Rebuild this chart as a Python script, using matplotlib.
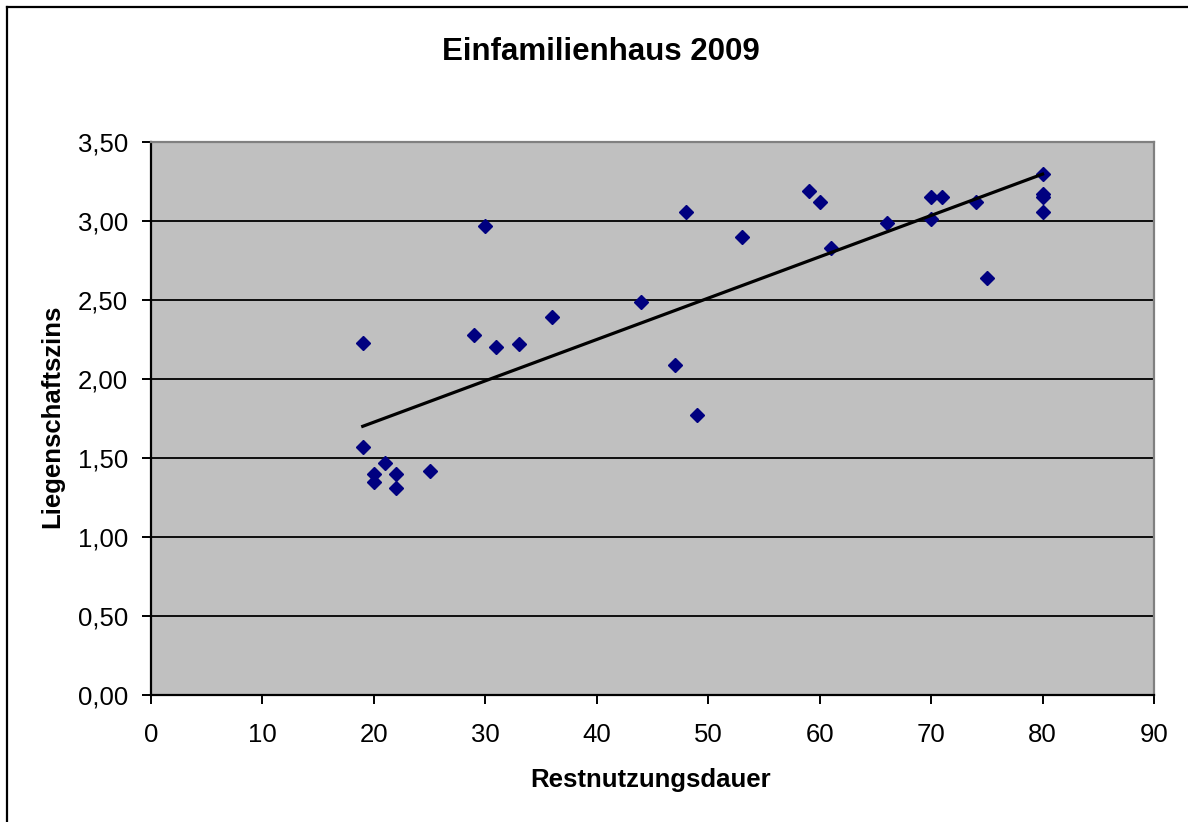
import numpy as np
import matplotlib
matplotlib.use("Agg")
import matplotlib.pyplot as plt
from matplotlib.ticker import FuncFormatter, MultipleLocator
from matplotlib.lines import Line2D

plt.rcParams['font.family'] = ['Liberation Sans', 'DejaVu Sans']

title = "Einfamilienhaus 2009"
xlabel = "Restnutzungsdauer"
ylabel = "Liegenschaftszins"

restnutzungsdauer = [19, 19, 20, 20, 21, 22, 22, 25, 29, 30, 31, 33, 36, 44, 47, 48,
                     49, 53, 59, 60, 61, 66, 70, 70, 71, 74, 75, 80, 80, 80, 80]
liegenschaftszins = [2.23, 1.57, 1.40, 1.35, 1.47, 1.40, 1.31, 1.42, 2.28, 2.97, 2.20,
                     2.22, 2.39, 2.49, 2.09, 3.06, 1.77, 2.90, 3.19, 3.12, 2.83, 2.99,
                     3.15, 3.01, 3.15, 3.12, 2.64, 3.30, 3.17, 3.15, 3.06]

W, H = 1188, 822
fig = plt.figure(figsize=(W / 100, H / 100), dpi=100)
fig.patch.set_facecolor('white')

# figure border (top and left visible)
fig.add_artist(Line2D([7 / W, 7 / W], [0, 1 - 7 / H], color='black', lw=1.6,
                      transform=fig.transFigure))
fig.add_artist(Line2D([7 / W, 1], [1 - 7 / H, 1 - 7 / H], color='black', lw=1.6,
                      transform=fig.transFigure))

ax = fig.add_axes([151 / W, 1 - 695 / H, (1154 - 151) / W, (695 - 142) / H])
ax.set_facecolor('#c0c0c0')
ax.set_xlim(0, 90)
ax.set_ylim(0, 3.5)
ax.xaxis.set_major_locator(MultipleLocator(10))
ax.yaxis.set_major_locator(MultipleLocator(0.5))
ax.yaxis.set_major_formatter(FuncFormatter(lambda v, p: f"{v:.2f}".replace('.', ',')))
ax.grid(axis='y', color='black', lw=1.3)
ax.set_axisbelow(True)

for s in ['left', 'bottom']:
    ax.spines[s].set_color('black')
    ax.spines[s].set_linewidth(1.6)
for s in ['top', 'right']:
    ax.spines[s].set_color('#808080')
    ax.spines[s].set_linewidth(1.6)

ax.tick_params(direction='out', length=6.5, width=1.4, labelsize=18.5)
ax.tick_params(axis='y', pad=10)
ax.tick_params(axis='x', pad=14)

x = np.array(restnutzungsdauer, dtype=float)
y = np.array(liegenschaftszins, dtype=float)
ax.plot(x, y, linestyle='none', marker='D', markersize=7, color='#000080', zorder=3)

k, d = np.polyfit(x, y, 1)
xs = np.array([x.min(), x.max()])
ax.plot(xs, k * xs + d, color='black', lw=2.3, zorder=4)

fig.text(601 / W, 1 - 52 / H, title, ha='center', va='center', fontsize=22.5, fontweight='bold')
fig.text(651 / W, 1 - 780 / H, xlabel, ha='center', va='center', fontsize=18.5, fontweight='bold')
fig.text(52 / W, 1 - 416 / H, ylabel, ha='center', va='center', rotation=90,
         fontsize=18.5, fontweight='bold')

fig.savefig('out.png', dpi=100)
